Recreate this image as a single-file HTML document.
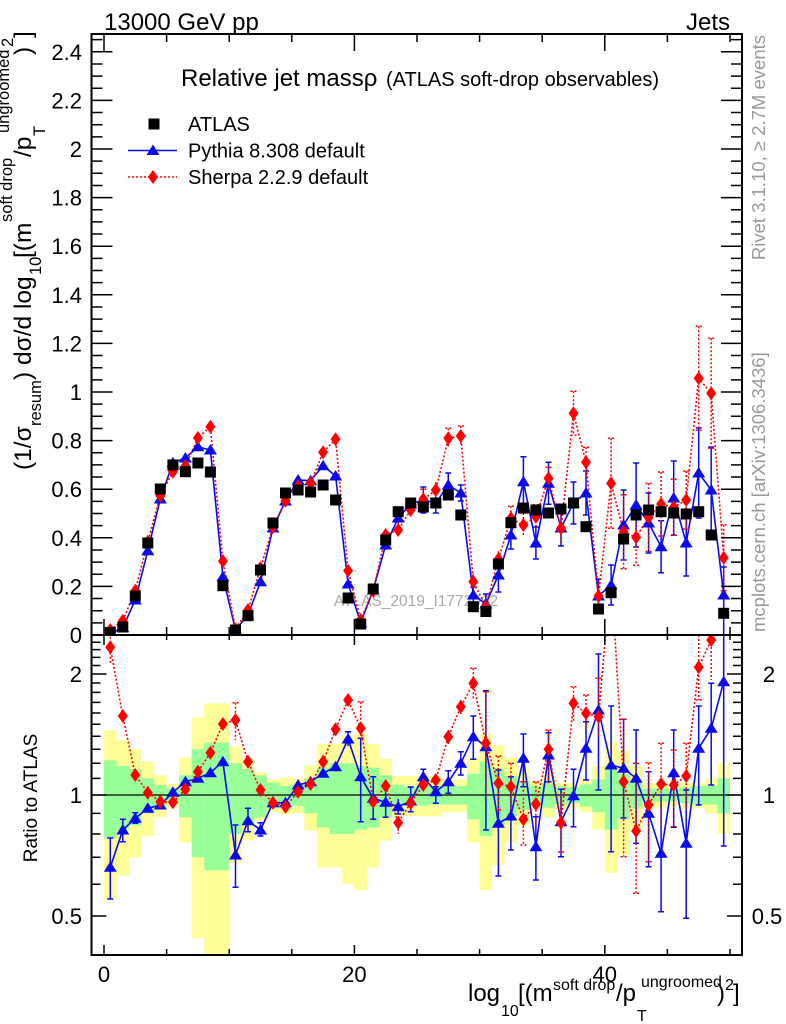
<!DOCTYPE html>
<html><head><meta charset="utf-8"><style>html,body{margin:0;padding:0;background:#fff}svg{display:block}text{font-family:"Liberation Sans",Arial,sans-serif}</style></head><body>
<svg width="786" height="1024" viewBox="0 0 786 1024" xmlns="http://www.w3.org/2000/svg">
<defs>
<clipPath id="cm"><rect x="91.5" y="34" width="650.5" height="601"/></clipPath>
<clipPath id="cr"><rect x="91.5" y="635" width="650.5" height="320"/></clipPath>
<rect id="sq" x="-5.5" y="-5.5" width="11" height="11" fill="#000"/>
<polygon id="tri" points="0,-6 6.5,4.5 -6.5,4.5" fill="#0a0aee"/>
<polygon id="dia" points="0,-7 5,0 0,7 -5,0" fill="#ff0000"/>
</defs>
<rect width="786" height="1024" fill="#fff"/>
<text x="104" y="30" font-size="24">13000 GeV pp</text>
<text x="730" y="30" font-size="24" text-anchor="end">Jets</text>
<g clip-path="url(#cr)">
<g fill="#ffff99">
<rect x="104" y="730.1" width="12.6" height="169.2"/><rect x="116.5" y="740.1" width="12.6" height="135.6"/><rect x="129" y="749.2" width="12.6" height="108.1"/><rect x="141.6" y="761.7" width="12.6" height="74.4"/><rect x="154.1" y="775.2" width="12.6" height="42.1"/><rect x="166.6" y="784" width="12.6" height="22.7"/><rect x="179.1" y="757.5" width="12.6" height="85.4"/><rect x="191.6" y="717.4" width="12.6" height="220.9"/><rect x="204.2" y="703.4" width="12.6" height="251.6"/><rect x="216.7" y="703.4" width="12.6" height="251.6"/><rect x="229.2" y="746.5" width="12.6" height="115.8"/><rect x="241.7" y="758.9" width="12.6" height="81.7"/><rect x="254.2" y="772.1" width="12.6" height="49.2"/><rect x="266.8" y="779.3" width="12.6" height="32.9"/><rect x="279.3" y="777.6" width="12.6" height="36.8"/><rect x="291.8" y="778.4" width="12.6" height="35"/><rect x="304.3" y="765.4" width="12.6" height="65.3"/><rect x="316.8" y="743.9" width="12.6" height="123.6"/><rect x="329.4" y="743.9" width="12.6" height="123.6"/><rect x="341.9" y="736.3" width="12.6" height="147.9"/><rect x="354.4" y="733.8" width="12.6" height="156.3"/><rect x="366.9" y="743.9" width="12.6" height="123.6"/><rect x="379.4" y="758.9" width="12.6" height="81.7"/><rect x="392" y="776" width="12.6" height="40.3"/><rect x="404.5" y="776" width="12.6" height="40.3"/><rect x="417" y="776" width="12.6" height="40.3"/><rect x="429.5" y="776" width="12.6" height="40.3"/><rect x="442" y="779.3" width="12.6" height="32.9"/><rect x="454.6" y="779.3" width="12.6" height="32.9"/><rect x="467.1" y="757.5" width="12.6" height="85.4"/><rect x="479.6" y="733.8" width="12.6" height="156.3"/><rect x="492.1" y="745.2" width="12.6" height="119.7"/><rect x="504.6" y="757.5" width="12.6" height="85.4"/><rect x="517.2" y="769.1" width="12.6" height="56.3"/><rect x="529.7" y="781.1" width="12.6" height="29"/><rect x="542.2" y="775.2" width="12.6" height="42.1"/><rect x="554.7" y="782.7" width="12.6" height="25.5"/><rect x="567.2" y="783.2" width="12.6" height="24.5"/><rect x="579.8" y="779.3" width="12.6" height="32.9"/><rect x="592.3" y="766.1" width="12.6" height="63.5"/><rect x="604.8" y="741.4" width="12.6" height="131.5"/><rect x="617.3" y="750.5" width="12.6" height="104.3"/><rect x="629.8" y="766.1" width="12.6" height="63.5"/><rect x="642.4" y="783.2" width="12.6" height="24.5"/><rect x="654.9" y="783.2" width="12.6" height="24.5"/><rect x="667.4" y="784.8" width="12.6" height="21"/><rect x="679.9" y="782.7" width="12.6" height="25.5"/><rect x="692.4" y="782.7" width="12.6" height="25.5"/><rect x="705" y="778.4" width="12.6" height="35"/><rect x="717.5" y="763.2" width="12.5" height="70.8"/>
</g>
<g fill="#99ff99">
<rect x="104" y="760.3" width="12.6" height="78.1"/><rect x="116.5" y="766.1" width="12.6" height="63.5"/><rect x="129" y="769.1" width="12.6" height="56.3"/><rect x="141.6" y="778.4" width="12.6" height="35"/><rect x="154.1" y="784.8" width="12.6" height="21"/><rect x="166.6" y="788.2" width="12.6" height="13.9"/><rect x="179.1" y="775.2" width="12.6" height="42.1"/><rect x="191.6" y="749.2" width="12.6" height="108.1"/><rect x="204.2" y="742.6" width="12.6" height="127.6"/><rect x="216.7" y="742.6" width="12.6" height="127.6"/><rect x="229.2" y="763.2" width="12.6" height="70.8"/><rect x="241.7" y="769.1" width="12.6" height="56.3"/><rect x="254.2" y="775.2" width="12.6" height="42.1"/><rect x="266.8" y="782.7" width="12.6" height="25.5"/><rect x="279.3" y="786" width="12.6" height="18.5"/><rect x="291.8" y="784.8" width="12.6" height="21"/><rect x="304.3" y="778.4" width="12.6" height="35"/><rect x="316.8" y="767.6" width="12.6" height="59.9"/><rect x="329.4" y="763.2" width="12.6" height="70.8"/><rect x="341.9" y="763.2" width="12.6" height="70.8"/><rect x="354.4" y="766.1" width="12.6" height="63.5"/><rect x="366.9" y="767.6" width="12.6" height="59.9"/><rect x="379.4" y="775.2" width="12.6" height="42.1"/><rect x="392" y="784.8" width="12.6" height="21"/><rect x="404.5" y="786.5" width="12.6" height="17.5"/><rect x="417" y="784.8" width="12.6" height="21"/><rect x="429.5" y="786" width="12.6" height="18.5"/><rect x="442" y="786" width="12.6" height="18.5"/><rect x="454.6" y="786" width="12.6" height="18.5"/><rect x="467.1" y="773.7" width="12.6" height="45.6"/><rect x="479.6" y="761.7" width="12.6" height="74.4"/><rect x="492.1" y="769.1" width="12.6" height="56.3"/><rect x="504.6" y="776" width="12.6" height="40.3"/><rect x="517.2" y="781.1" width="12.6" height="29"/><rect x="529.7" y="786" width="12.6" height="18.5"/><rect x="542.2" y="783.2" width="12.6" height="24.5"/><rect x="554.7" y="786" width="12.6" height="18.5"/><rect x="567.2" y="787.3" width="12.6" height="15.7"/><rect x="579.8" y="784.3" width="12.6" height="22.1"/><rect x="592.3" y="779.3" width="12.6" height="32.9"/><rect x="604.8" y="766.1" width="12.6" height="63.5"/><rect x="617.3" y="773.7" width="12.6" height="45.6"/><rect x="629.8" y="782.7" width="12.6" height="25.5"/><rect x="642.4" y="788.7" width="12.6" height="12.9"/><rect x="654.9" y="788.7" width="12.6" height="12.9"/><rect x="667.4" y="789.3" width="12.6" height="11.6"/><rect x="679.9" y="787.3" width="12.6" height="15.7"/><rect x="692.4" y="786" width="12.6" height="18.5"/><rect x="705" y="786" width="12.6" height="18.5"/><rect x="717.5" y="778.4" width="12.5" height="35"/>
</g>
<path d="M91.5,795H742" stroke="#000" stroke-width="1.2"/>
<polyline fill="none" stroke="#0a0aee" stroke-width="1.6" points="110.3,867.3 122.8,830 135.3,818.3 147.8,808.3 160.3,805 172.9,792.3 185.4,781.7 197.9,778.3 210.4,772.7 222.9,761.7 235.5,855 248,820.7 260.5,830 273,802.7 285.5,802.7 298.1,785 310.6,781.7 323.1,773.3 335.6,766.7 348.1,739 360.7,776.7 373.2,798.3 385.7,802.3 398.2,806.7 410.7,801 423.3,776.7 435.8,791.7 448.3,781.7 460.8,763.3 473.3,736.7 485.9,746.7 498.4,823.3 510.9,816 523.4,758.3 535.9,846.7 548.5,755 561,821.7 573.5,795.7 586,748.3 598.5,710 611.1,765 623.6,768.3 636.1,778.3 648.6,813.3 661.1,853.3 673.7,772.7 686.2,843.3 698.7,748.3 711.2,728.3 723.7,681.7"/>
<path fill="none" stroke="#0a0aee" stroke-width="1.5" d="M110.3,838V899M107.3,838h6M107.3,899h6M122.8,819.3V841.7M119.8,819.3h6M119.8,841.7h6M135.3,812.7V823.3M132.3,812.7h6M132.3,823.3h6M235.5,825V887.3M232.5,825h6M232.5,887.3h6M248,808.3V831.7M245,808.3h6M245,831.7h6M260.5,822.7V836M257.5,822.7h6M257.5,836h6M348.1,731.7V746M345.1,731.7h6M360.7,738.3V821.7M357.7,738.3h6M357.7,821.7h6M373.2,776.7V819.3M370.2,776.7h6M370.2,819.3h6M385.7,786V817.3M382.7,786h6M382.7,817.3h6M398.2,799V814M395.2,814h6M410.7,787V811.7M407.7,787h6M407.7,811.7h6M423.3,769.3V784M420.3,769.3h6M435.8,786.7V803.3M432.8,786.7h6M432.8,803.3h6M448.3,770.7V793.3M445.3,770.7h6M445.3,793.3h6M460.8,751.7V775M457.8,751.7h6M457.8,775h6M473.3,716V759.3M470.3,716h6M470.3,759.3h6M485.9,690.7V830M482.9,690.7h6M482.9,830h6M498.4,770V876M495.4,770h6M495.4,876h6M510.9,776.7V850M507.9,776.7h6M507.9,850h6M523.4,734V786.7M520.4,734h6M520.4,786.7h6M535.9,816.7V880M532.9,816.7h6M532.9,880h6M548.5,732.7V781.7M545.5,732.7h6M545.5,781.7h6M561,789.3V856.7M558,789.3h6M558,856.7h6M573.5,769.3V826.7M570.5,769.3h6M570.5,826.7h6M586,721.7V780M583,721.7h6M583,780h6M598.5,654V790M595.5,654h6M595.5,790h6M611.1,706V851.7M608.1,706h6M608.1,851.7h6M623.6,719.3V818M620.6,719.3h6M620.6,818h6M636.1,730V843.3M633.1,730h6M633.1,843.3h6M648.6,771.7V866.7M645.6,771.7h6M645.6,866.7h6M661.1,795V911.7M658.1,795h6M658.1,911.7h6M673.7,730V827.3M670.7,730h6M670.7,827.3h6M686.2,790V918.3M683.2,790h6M683.2,918.3h6M698.7,706V805M695.7,706h6M695.7,805h6M711.2,683.3V785M708.2,683.3h6M708.2,785h6M723.7,635V846M720.7,846h6"/>
<polyline fill="none" stroke="#ff0000" stroke-width="1.6" stroke-dasharray="2,2" points="110.3,647.3 122.8,716 135.3,775 147.8,792.7 160.3,801.7 172.9,802.3 185.4,789.3 197.9,771.7 210.4,752.7 222.9,724 235.5,720 248,761.7 260.5,790 273,802.7 285.5,806.7 298.1,791.7 310.6,784 323.1,761.7 335.6,729.3 348.1,700 360.7,728.3 373.2,801.7 385.7,786 398.2,822.7 410.7,803 423.3,785 435.8,780 448.3,736.7 460.8,706.7 473.3,683.3 485.9,743.3 498.4,783.3 510.9,786.7 523.4,819.3 535.9,804 548.5,749.3 561,822.7 573.5,703.3 586,713.3 598.5,716.7 611.1,572 623.6,781.7 636.1,831 648.6,805 661.1,784 673.7,785 686.2,776 698.7,667.3 711.2,640 723.7,574.7"/>
<path fill="none" stroke="#ff0000" stroke-width="1.5" stroke-dasharray="2,2" d="M110.3,636.7V663.3M122.8,710V722M235.5,702.7V740M232.5,702.7h6M360.7,701.7V738.3M357.7,701.7h6M398.2,816.7V834M448.3,730V744M460.8,700V714M473.3,668.3V700M470.3,668.3h6M485.9,691.7V796.7M482.9,691.7h6M498.4,756V810M495.4,756h6M495.4,810h6M510.9,763.3V810M507.9,763.3h6M523.4,781.7V845M520.4,781.7h6M520.4,845h6M535.9,781.7V826M532.9,781.7h6M548.5,730V783.3M545.5,730h6M561,793.3V852M558,852h6M573.5,686.7V721.7M570.5,686.7h6M586,695V731M583,695h6M598.5,678.3V738.3M595.5,678.3h6M623.6,719.3V856.7M620.6,719.3h6M620.6,856.7h6M636.1,763.3V893.3M633.1,763.3h6M633.1,893.3h6M648.6,762.7V861.7M645.6,762.7h6M645.6,861.7h6M661.1,743.3V826M658.1,743.3h6M673.7,750V826.7M670.7,750h6M670.7,826.7h6M686.2,743.3V810M683.2,743.3h6M698.7,635V700M695.7,700h6M711.2,635V680"/>
<use href="#tri" x="110.3" y="867.3"/><use href="#tri" x="122.8" y="830"/><use href="#tri" x="135.3" y="818.3"/><use href="#tri" x="147.8" y="808.3"/><use href="#tri" x="160.3" y="805"/><use href="#tri" x="172.9" y="792.3"/><use href="#tri" x="185.4" y="781.7"/><use href="#tri" x="197.9" y="778.3"/><use href="#tri" x="210.4" y="772.7"/><use href="#tri" x="222.9" y="761.7"/><use href="#tri" x="235.5" y="855"/><use href="#tri" x="248" y="820.7"/><use href="#tri" x="260.5" y="830"/><use href="#tri" x="273" y="802.7"/><use href="#tri" x="285.5" y="802.7"/><use href="#tri" x="298.1" y="785"/><use href="#tri" x="310.6" y="781.7"/><use href="#tri" x="323.1" y="773.3"/><use href="#tri" x="335.6" y="766.7"/><use href="#tri" x="348.1" y="739"/><use href="#tri" x="360.7" y="776.7"/><use href="#tri" x="373.2" y="798.3"/><use href="#tri" x="385.7" y="802.3"/><use href="#tri" x="398.2" y="806.7"/><use href="#tri" x="410.7" y="801"/><use href="#tri" x="423.3" y="776.7"/><use href="#tri" x="435.8" y="791.7"/><use href="#tri" x="448.3" y="781.7"/><use href="#tri" x="460.8" y="763.3"/><use href="#tri" x="473.3" y="736.7"/><use href="#tri" x="485.9" y="746.7"/><use href="#tri" x="498.4" y="823.3"/><use href="#tri" x="510.9" y="816"/><use href="#tri" x="523.4" y="758.3"/><use href="#tri" x="535.9" y="846.7"/><use href="#tri" x="548.5" y="755"/><use href="#tri" x="561" y="821.7"/><use href="#tri" x="573.5" y="795.7"/><use href="#tri" x="586" y="748.3"/><use href="#tri" x="598.5" y="710"/><use href="#tri" x="611.1" y="765"/><use href="#tri" x="623.6" y="768.3"/><use href="#tri" x="636.1" y="778.3"/><use href="#tri" x="648.6" y="813.3"/><use href="#tri" x="661.1" y="853.3"/><use href="#tri" x="673.7" y="772.7"/><use href="#tri" x="686.2" y="843.3"/><use href="#tri" x="698.7" y="748.3"/><use href="#tri" x="711.2" y="728.3"/><use href="#tri" x="723.7" y="681.7"/>
<use href="#dia" x="110.3" y="647.3"/><use href="#dia" x="122.8" y="716"/><use href="#dia" x="135.3" y="775"/><use href="#dia" x="147.8" y="792.7"/><use href="#dia" x="160.3" y="801.7"/><use href="#dia" x="172.9" y="802.3"/><use href="#dia" x="185.4" y="789.3"/><use href="#dia" x="197.9" y="771.7"/><use href="#dia" x="210.4" y="752.7"/><use href="#dia" x="222.9" y="724"/><use href="#dia" x="235.5" y="720"/><use href="#dia" x="248" y="761.7"/><use href="#dia" x="260.5" y="790"/><use href="#dia" x="273" y="802.7"/><use href="#dia" x="285.5" y="806.7"/><use href="#dia" x="298.1" y="791.7"/><use href="#dia" x="310.6" y="784"/><use href="#dia" x="323.1" y="761.7"/><use href="#dia" x="335.6" y="729.3"/><use href="#dia" x="348.1" y="700"/><use href="#dia" x="360.7" y="728.3"/><use href="#dia" x="373.2" y="801.7"/><use href="#dia" x="385.7" y="786"/><use href="#dia" x="398.2" y="822.7"/><use href="#dia" x="410.7" y="803"/><use href="#dia" x="423.3" y="785"/><use href="#dia" x="435.8" y="780"/><use href="#dia" x="448.3" y="736.7"/><use href="#dia" x="460.8" y="706.7"/><use href="#dia" x="473.3" y="683.3"/><use href="#dia" x="485.9" y="743.3"/><use href="#dia" x="498.4" y="783.3"/><use href="#dia" x="510.9" y="786.7"/><use href="#dia" x="523.4" y="819.3"/><use href="#dia" x="535.9" y="804"/><use href="#dia" x="548.5" y="749.3"/><use href="#dia" x="561" y="822.7"/><use href="#dia" x="573.5" y="703.3"/><use href="#dia" x="586" y="713.3"/><use href="#dia" x="598.5" y="716.7"/><use href="#dia" x="623.6" y="781.7"/><use href="#dia" x="636.1" y="831"/><use href="#dia" x="648.6" y="805"/><use href="#dia" x="661.1" y="784"/><use href="#dia" x="673.7" y="785"/><use href="#dia" x="686.2" y="776"/><use href="#dia" x="698.7" y="667.3"/><use href="#dia" x="711.2" y="640"/>
</g>
<text x="416" y="606" text-anchor="middle" font-size="15.5" fill="#aaaaaa">ATLAS_2019_I1772062</text>
<g clip-path="url(#cm)">
<polyline fill="none" stroke="#0a0aee" stroke-width="1.6" points="110.3,633.3 122.8,627.7 135.3,600 147.8,550.7 160.3,499 172.9,462.7 185.4,458 197.9,446.7 210.4,450 222.9,576.7 235.5,630 248,615 260.5,581.7 273,528 285.5,501 298.1,480 310.6,480.7 323.1,465.7 335.6,476 348.1,584 360.7,622.7 373.2,590 385.7,545 398.2,518 410.7,504 423.3,500 435.8,503 448.3,485 460.8,493 473.3,595 485.9,604 498.4,575 510.9,535 523.4,481.7 535.9,543 548.5,483.3 561,528 573.5,503 586,493 598.5,596 611.1,585 623.6,525 636.1,505 648.6,523 661.1,546.7 673.7,498 686.2,543 698.7,473 711.2,490 723.7,595"/>
<path fill="none" stroke="#0a0aee" stroke-width="1.5" d="M360.7,618.7V626.7M373.2,585V595M385.7,540V550M398.2,513V523M410.7,499V509M423.3,487V513M420.3,487h6M420.3,513h6M435.8,493V513M432.8,493h6M432.8,513h6M448.3,473V497M445.3,473h6M445.3,497h6M460.8,485V501M457.8,485h6M457.8,501h6M473.3,587V603M470.3,587h6M470.3,603h6M485.9,594V614M482.9,594h6M482.9,614h6M498.4,558V592M495.4,558h6M495.4,592h6M510.9,521V549M507.9,521h6M507.9,549h6M523.4,456.7V506.7M520.4,456.7h6M520.4,506.7h6M535.9,527V559M532.9,527h6M532.9,559h6M548.5,462.3V504.3M545.5,462.3h6M545.5,504.3h6M561,510V546M558,510h6M558,546h6M573.5,482V524M570.5,482h6M570.5,524h6M586,471V515M583,471h6M583,515h6M598.5,579V613M595.5,579h6M595.5,613h6M611.1,565V605M608.1,565h6M608.1,605h6M623.6,490V560M620.6,490h6M620.6,560h6M636.1,463V547M633.1,463h6M633.1,547h6M648.6,493V553M645.6,493h6M645.6,553h6M661.1,520.7V572.7M658.1,520.7h6M658.1,572.7h6M673.7,461V535M670.7,461h6M670.7,535h6M686.2,510V576M683.2,510h6M683.2,576h6M698.7,428V518M695.7,428h6M695.7,518h6M711.2,447V533M708.2,447h6M708.2,533h6M723.7,567V640M720.7,567h6"/>
<polyline fill="none" stroke="#ff0000" stroke-width="1.6" stroke-dasharray="2,2" points="110.3,630 122.8,620.7 135.3,590.7 147.8,541.7 160.3,495.7 172.9,471.7 185.4,466 197.9,438 210.4,426.7 222.9,561 235.5,629.3 248,610 260.5,568 273,527 285.5,500.7 298.1,486 310.6,483.3 323.1,452.3 335.6,439.3 348.1,570.7 360.7,620 373.2,590.7 385.7,535 398.2,530 410.7,510 423.3,499.3 435.8,490 448.3,438.3 460.8,436 473.3,581.7 485.9,606.7 498.4,559.3 510.9,518.3 523.4,525 535.9,516.7 548.5,478.3 561,528.3 573.5,413.3 586,462.3 598.5,596 611.1,483.3 623.6,531.7 636.1,537.3 648.6,517.3 661.1,504 673.7,507.3 686.2,500 698.7,378.3 711.2,393.3 723.7,557.7"/>
<path fill="none" stroke="#ff0000" stroke-width="1.5" stroke-dasharray="2,2" d="M398.2,522V538M410.7,502V518M423.3,489.3V509.3M420.3,489.3h6M435.8,482V498M448.3,428.3V448.3M445.3,428.3h6M460.8,426V446M457.8,426h6M473.3,573.7V589.7M485.9,598.7V614.7M498.4,551.3V567.3M510.9,506.3V530.3M507.9,506.3h6M523.4,513V537M520.4,513h6M535.9,504.7V528.7M532.9,504.7h6M548.5,467.3V489.3M545.5,467.3h6M561,513.3V543.3M558,513.3h6M573.5,391.3V435.3M570.5,391.3h6M570.5,435.3h6M586,447.3V477.3M583,447.3h6M598.5,583V609M611.1,438.3V528.3M608.1,438.3h6M608.1,528.3h6M623.6,494.7V568.7M620.6,494.7h6M620.6,568.7h6M636.1,509.3V565.3M633.1,509.3h6M633.1,565.3h6M648.6,483.3V551.3M645.6,483.3h6M645.6,551.3h6M661.1,472V536M658.1,472h6M658.1,536h6M673.7,479.3V535.3M670.7,479.3h6M670.7,535.3h6M686.2,471V529M683.2,471h6M683.2,529h6M698.7,326.3V430.3M695.7,326.3h6M695.7,430.3h6M711.2,338.3V448.3M708.2,338.3h6M708.2,448.3h6M723.7,524.7V590.7M720.7,524.7h6M720.7,590.7h6"/>
<use href="#tri" x="110.3" y="633.3"/><use href="#tri" x="122.8" y="627.7"/><use href="#tri" x="135.3" y="600"/><use href="#tri" x="147.8" y="550.7"/><use href="#tri" x="160.3" y="499"/><use href="#tri" x="172.9" y="462.7"/><use href="#tri" x="185.4" y="458"/><use href="#tri" x="197.9" y="446.7"/><use href="#tri" x="210.4" y="450"/><use href="#tri" x="222.9" y="576.7"/><use href="#tri" x="235.5" y="630"/><use href="#tri" x="248" y="615"/><use href="#tri" x="260.5" y="581.7"/><use href="#tri" x="273" y="528"/><use href="#tri" x="285.5" y="501"/><use href="#tri" x="298.1" y="480"/><use href="#tri" x="310.6" y="480.7"/><use href="#tri" x="323.1" y="465.7"/><use href="#tri" x="335.6" y="476"/><use href="#tri" x="348.1" y="584"/><use href="#tri" x="360.7" y="622.7"/><use href="#tri" x="373.2" y="590"/><use href="#tri" x="385.7" y="545"/><use href="#tri" x="398.2" y="518"/><use href="#tri" x="410.7" y="504"/><use href="#tri" x="423.3" y="500"/><use href="#tri" x="435.8" y="503"/><use href="#tri" x="448.3" y="485"/><use href="#tri" x="460.8" y="493"/><use href="#tri" x="473.3" y="595"/><use href="#tri" x="485.9" y="604"/><use href="#tri" x="498.4" y="575"/><use href="#tri" x="510.9" y="535"/><use href="#tri" x="523.4" y="481.7"/><use href="#tri" x="535.9" y="543"/><use href="#tri" x="548.5" y="483.3"/><use href="#tri" x="561" y="528"/><use href="#tri" x="573.5" y="503"/><use href="#tri" x="586" y="493"/><use href="#tri" x="598.5" y="596"/><use href="#tri" x="611.1" y="585"/><use href="#tri" x="623.6" y="525"/><use href="#tri" x="636.1" y="505"/><use href="#tri" x="648.6" y="523"/><use href="#tri" x="661.1" y="546.7"/><use href="#tri" x="673.7" y="498"/><use href="#tri" x="686.2" y="543"/><use href="#tri" x="698.7" y="473"/><use href="#tri" x="711.2" y="490"/><use href="#tri" x="723.7" y="595"/>
<use href="#dia" x="110.3" y="630"/><use href="#dia" x="122.8" y="620.7"/><use href="#dia" x="135.3" y="590.7"/><use href="#dia" x="147.8" y="541.7"/><use href="#dia" x="160.3" y="495.7"/><use href="#dia" x="172.9" y="471.7"/><use href="#dia" x="185.4" y="466"/><use href="#dia" x="197.9" y="438"/><use href="#dia" x="210.4" y="426.7"/><use href="#dia" x="222.9" y="561"/><use href="#dia" x="235.5" y="629.3"/><use href="#dia" x="248" y="610"/><use href="#dia" x="260.5" y="568"/><use href="#dia" x="273" y="527"/><use href="#dia" x="285.5" y="500.7"/><use href="#dia" x="298.1" y="486"/><use href="#dia" x="310.6" y="483.3"/><use href="#dia" x="323.1" y="452.3"/><use href="#dia" x="335.6" y="439.3"/><use href="#dia" x="348.1" y="570.7"/><use href="#dia" x="360.7" y="620"/><use href="#dia" x="373.2" y="590.7"/><use href="#dia" x="385.7" y="535"/><use href="#dia" x="398.2" y="530"/><use href="#dia" x="410.7" y="510"/><use href="#dia" x="423.3" y="499.3"/><use href="#dia" x="435.8" y="490"/><use href="#dia" x="448.3" y="438.3"/><use href="#dia" x="460.8" y="436"/><use href="#dia" x="473.3" y="581.7"/><use href="#dia" x="485.9" y="606.7"/><use href="#dia" x="498.4" y="559.3"/><use href="#dia" x="510.9" y="518.3"/><use href="#dia" x="523.4" y="525"/><use href="#dia" x="535.9" y="516.7"/><use href="#dia" x="548.5" y="478.3"/><use href="#dia" x="561" y="528.3"/><use href="#dia" x="573.5" y="413.3"/><use href="#dia" x="586" y="462.3"/><use href="#dia" x="598.5" y="596"/><use href="#dia" x="611.1" y="483.3"/><use href="#dia" x="623.6" y="531.7"/><use href="#dia" x="636.1" y="537.3"/><use href="#dia" x="648.6" y="517.3"/><use href="#dia" x="661.1" y="504"/><use href="#dia" x="673.7" y="507.3"/><use href="#dia" x="686.2" y="500"/><use href="#dia" x="698.7" y="378.3"/><use href="#dia" x="711.2" y="393.3"/><use href="#dia" x="723.7" y="557.7"/>
<use href="#sq" x="110.3" y="632.5"/><use href="#sq" x="122.8" y="627"/><use href="#sq" x="135.3" y="596"/><use href="#sq" x="147.8" y="543"/><use href="#sq" x="160.3" y="489"/><use href="#sq" x="172.9" y="465"/><use href="#sq" x="185.4" y="471.7"/><use href="#sq" x="197.9" y="463"/><use href="#sq" x="210.4" y="472"/><use href="#sq" x="222.9" y="585.7"/><use href="#sq" x="235.5" y="630"/><use href="#sq" x="248" y="615.7"/><use href="#sq" x="260.5" y="570"/><use href="#sq" x="273" y="523"/><use href="#sq" x="285.5" y="493"/><use href="#sq" x="298.1" y="490"/><use href="#sq" x="310.6" y="492"/><use href="#sq" x="323.1" y="485"/><use href="#sq" x="335.6" y="500"/><use href="#sq" x="348.1" y="598"/><use href="#sq" x="360.7" y="624"/><use href="#sq" x="373.2" y="589"/><use href="#sq" x="385.7" y="540"/><use href="#sq" x="398.2" y="511.7"/><use href="#sq" x="410.7" y="503"/><use href="#sq" x="423.3" y="507"/><use href="#sq" x="435.8" y="503"/><use href="#sq" x="448.3" y="495"/><use href="#sq" x="460.8" y="515"/><use href="#sq" x="473.3" y="606.7"/><use href="#sq" x="485.9" y="611.5"/><use href="#sq" x="498.4" y="564"/><use href="#sq" x="510.9" y="522.7"/><use href="#sq" x="523.4" y="508"/><use href="#sq" x="535.9" y="510"/><use href="#sq" x="548.5" y="513"/><use href="#sq" x="561" y="509"/><use href="#sq" x="573.5" y="503"/><use href="#sq" x="586" y="526.7"/><use href="#sq" x="598.5" y="609"/><use href="#sq" x="611.1" y="592.7"/><use href="#sq" x="623.6" y="539"/><use href="#sq" x="636.1" y="515"/><use href="#sq" x="648.6" y="510"/><use href="#sq" x="661.1" y="511.7"/><use href="#sq" x="673.7" y="513"/><use href="#sq" x="686.2" y="514"/><use href="#sq" x="698.7" y="511.7"/><use href="#sq" x="711.2" y="535"/><use href="#sq" x="723.7" y="613.3"/>
</g>
<g fill="none" stroke="#000" stroke-width="2">
<rect x="91.5" y="34" width="650.5" height="601"/>
<rect x="91.5" y="635" width="650.5" height="320"/>
</g>
<g fill="none" stroke="#000" stroke-width="1.5">
<path d="M91.5,635h21M91.5,586.4h21M91.5,537.8h21M91.5,489.2h21M91.5,440.6h21M91.5,392h21M91.5,343.4h21M91.5,294.8h21M91.5,246.2h21M91.5,197.6h21M91.5,149h21M91.5,100.4h21M91.5,51.8h21"/>
<path d="M91.5,622.85h11M91.5,610.7h11M91.5,598.55h11M91.5,574.25h11M91.5,562.1h11M91.5,549.95h11M91.5,525.65h11M91.5,513.5h11M91.5,501.35h11M91.5,477.05h11M91.5,464.9h11M91.5,452.75h11M91.5,428.45h11M91.5,416.3h11M91.5,404.15h11M91.5,379.85h11M91.5,367.7h11M91.5,355.55h11M91.5,331.25h11M91.5,319.1h11M91.5,306.95h11M91.5,282.65h11M91.5,270.5h11M91.5,258.35h11M91.5,234.05h11M91.5,221.9h11M91.5,209.75h11M91.5,185.45h11M91.5,173.3h11M91.5,161.15h11M91.5,136.85h11M91.5,124.7h11M91.5,112.55h11M91.5,88.25h11M91.5,76.1h11M91.5,63.95h11M91.5,39.65h11"/>
<path d="M742,635h-21M742,586.4h-21M742,537.8h-21M742,489.2h-21M742,440.6h-21M742,392h-21M742,343.4h-21M742,294.8h-21M742,246.2h-21M742,197.6h-21M742,149h-21M742,100.4h-21M742,51.8h-21"/>
<path d="M742,622.85h-11M742,610.7h-11M742,598.55h-11M742,574.25h-11M742,562.1h-11M742,549.95h-11M742,525.65h-11M742,513.5h-11M742,501.35h-11M742,477.05h-11M742,464.9h-11M742,452.75h-11M742,428.45h-11M742,416.3h-11M742,404.15h-11M742,379.85h-11M742,367.7h-11M742,355.55h-11M742,331.25h-11M742,319.1h-11M742,306.95h-11M742,282.65h-11M742,270.5h-11M742,258.35h-11M742,234.05h-11M742,221.9h-11M742,209.75h-11M742,185.45h-11M742,173.3h-11M742,161.15h-11M742,136.85h-11M742,124.7h-11M742,112.55h-11M742,88.25h-11M742,76.1h-11M742,63.95h-11M742,39.65h-11"/>
<path d="M104,34v17M354.4,34v17M604.8,34v17M166.6,34v8M229.2,34v8M291.8,34v8M417,34v8M479.6,34v8M542.2,34v8M667.4,34v8M730,34v8"/>
<path d="M104,635v-16M354.4,635v-16M604.8,635v-16M166.6,635v-8M229.2,635v-8M291.8,635v-8M417,635v-8M479.6,635v-8M542.2,635v-8M667.4,635v-8M730,635v-8"/>
<path d="M104,635v10M354.4,635v10M604.8,635v10M166.6,635v5M229.2,635v5M291.8,635v5M417,635v5M479.6,635v5M542.2,635v5M667.4,635v5M730,635v5"/>
<path d="M104,955v-10M354.4,955v-10M604.8,955v-10M166.6,955v-6M229.2,955v-6M291.8,955v-6M417,955v-6M479.6,955v-6M542.2,955v-6M667.4,955v-6M730,955v-6"/>
<path d="M91.5,916h15M91.5,795h15M91.5,674h15M742,916h-15M742,795h-15M742,674h-15"/>
<path d="M91.5,884.2h9M91.5,857.3h9M91.5,834h9M91.5,813.4h9M91.5,778.4h9M91.5,763.2h9M91.5,749.2h9M91.5,736.3h9M91.5,724.2h9M91.5,713h9M91.5,702.4h9M91.5,692.4h9M91.5,683h9M91.5,665.5h9M91.5,657.4h9M91.5,649.6h9M91.5,642.2h9M742,884.2h-9M742,857.3h-9M742,834h-9M742,813.4h-9M742,778.4h-9M742,763.2h-9M742,749.2h-9M742,736.3h-9M742,724.2h-9M742,713h-9M742,702.4h-9M742,692.4h-9M742,683h-9M742,665.5h-9M742,657.4h-9M742,649.6h-9M742,642.2h-9"/>
</g>
<g font-size="22" text-anchor="end">
<text x="82" y="643">0</text><text x="82" y="594.4">0.2</text><text x="82" y="545.8">0.4</text><text x="82" y="497.2">0.6</text><text x="82" y="448.6">0.8</text><text x="82" y="400">1</text><text x="82" y="351.4">1.2</text><text x="82" y="302.8">1.4</text><text x="82" y="254.2">1.6</text><text x="82" y="205.6">1.8</text><text x="82" y="157">2</text><text x="82" y="108.4">2.2</text><text x="82" y="59.8">2.4</text>
<text x="82" y="682">2</text><text x="82" y="803">1</text><text x="82" y="924">0.5</text>
</g>
<g font-size="22" text-anchor="middle">
<text x="769" y="682">2</text><text x="769" y="803">1</text><text x="767" y="924">0.5</text>
</g>
<g font-size="22" text-anchor="middle">
<text x="104" y="982">0</text><text x="354.4" y="982">20</text><text x="604.8" y="982">40</text>
</g>
<text x="181" y="86" font-size="24">Relative jet massρ</text>
<text x="386" y="86" font-size="20">(ATLAS soft-drop observables)</text>
<rect x="148.5" y="118.5" width="11" height="11" fill="#000"/>
<text x="188" y="131" font-size="20">ATLAS</text>
<path d="M128,150.5H177" stroke="#0a0aee" stroke-width="1.6"/>
<use href="#tri" x="153" y="150.5"/>
<text x="188" y="157.5" font-size="20">Pythia 8.308 default</text>
<path d="M128,177H177" stroke="#ff0000" stroke-width="1.6" stroke-dasharray="2,2"/>
<use href="#dia" x="153" y="177"/>
<text x="188" y="184" font-size="20">Sherpa 2.2.9 default</text>
<g transform="translate(31,470) rotate(-90)">
<text x="0" y="0" font-size="24.5">(1/σ</text>
<text x="44" y="10" font-size="16.5">resum</text>
<text x="90" y="0" font-size="24.5">) dσ/d log</text>
<text x="195" y="10" font-size="16.5">10</text>
<text x="212" y="0" font-size="24.5">[(m</text>
<text x="248" y="-19" font-size="16.5">soft drop</text>
<text x="313" y="0" font-size="24.5">/p</text>
<text x="334" y="14" font-size="16.5">T</text>
<text x="337" y="-22" font-size="16.5">ungroomed</text>
<text x="415" y="0" font-size="24.5">)</text>
<text x="423" y="-18" font-size="16.5">2</text>
<text x="432" y="0" font-size="24.5">]</text>
</g>
<text transform="translate(37,798) rotate(-90)" text-anchor="middle" font-size="19">Ratio to ATLAS</text>
<text x="468" y="1001" font-size="24">log</text>
<text x="501" y="1016" font-size="16">10</text>
<text x="518" y="1001" font-size="24">[(m</text>
<text x="553" y="990" font-size="16">soft drop</text>
<text x="616" y="1001" font-size="24">/p</text>
<text x="637" y="1021" font-size="16">T</text>
<text x="641" y="987" font-size="16">ungroomed</text>
<text x="717" y="1001" font-size="24">)</text>
<text x="725" y="990" font-size="16">2</text>
<text x="733" y="1001" font-size="24">]</text>
<text transform="translate(765,35) rotate(-90)" text-anchor="end" font-size="18.5" fill="#999999">Rivet 3.1.10, ≥ 2.7M events</text>
<text transform="translate(765,632) rotate(-90)" font-size="18.5" fill="#999999">mcplots.cern.ch [arXiv:1306.3436]</text>
</svg>
</body></html>
